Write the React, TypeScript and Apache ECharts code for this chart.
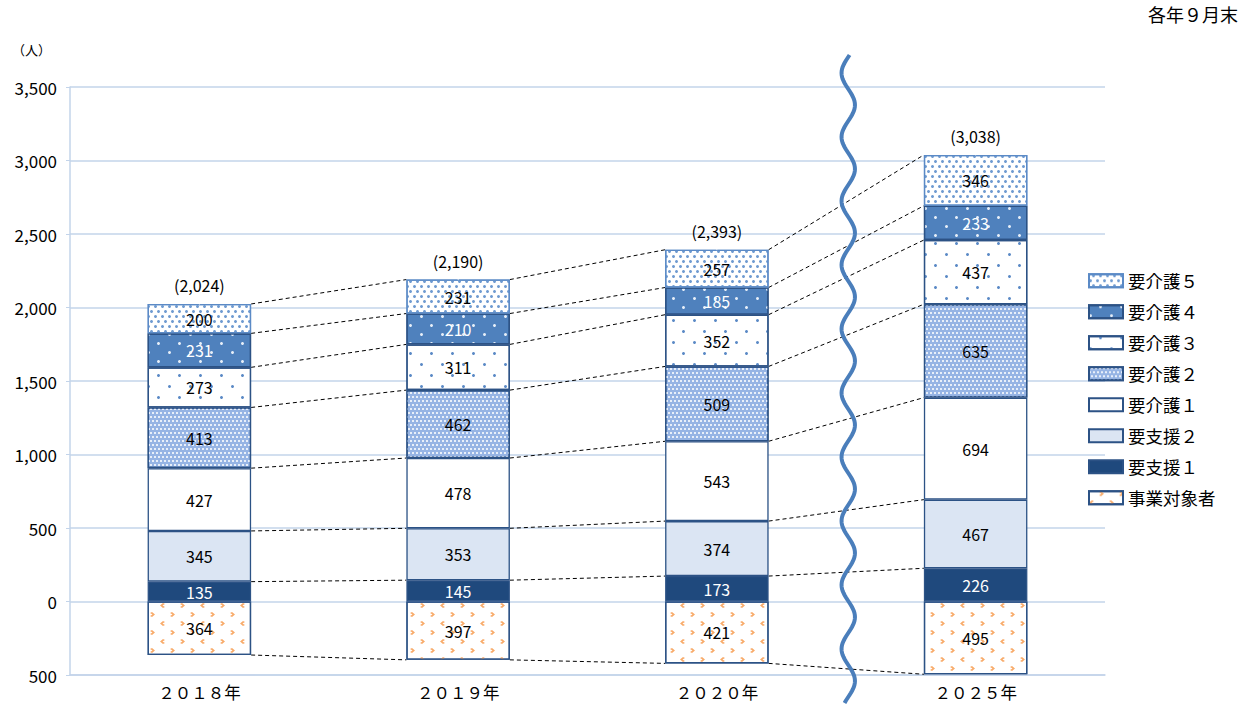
import React, { useEffect, useRef } from 'react';
import * as echarts from 'echarts';

const years = ['２０１８年', '２０１９年', '２０２０年', '２０２５年'];
const jigyo = [364, 397, 421, 495];
const shien1 = [135, 145, 173, 226];
const shien2 = [345, 353, 374, 467];
const kaigo1 = [427, 478, 543, 694];
const kaigo2 = [413, 462, 509, 635];
const kaigo3 = [273, 311, 352, 437];
const kaigo4 = [231, 210, 185, 233];
const kaigo5 = [200, 231, 257, 346];
const totals = [2024, 2190, 2393, 3038];
const seriesNames = ['要支援１', '要支援２', '要介護１', '要介護２', '要介護３', '要介護４', '要介護５'];
const legendOrder = ['要介護５', '要介護４', '要介護３', '要介護２', '要介護１', '要支援２', '要支援１', '事業対象者'];

const FONT = "'Noto Sans CJK JP', 'Noto Sans', sans-serif";
const GRID = { left: 70, right: 142, top: 87, bottom: 29 };
const W = 1247;
const H = 704;

const DARK = '#2c5285';

const positiveSets = [shien1, shien2, kaigo1, kaigo2, kaigo3, kaigo4, kaigo5];

const styles: any[] = [
  { color: '#1f497d', borderColor: DARK, label: '#ffffff' },
  { color: '#dbe5f3', borderColor: DARK, label: '#000000' },
  { color: '#ffffff', borderColor: DARK, label: '#000000' },
  {
    color: '#96b4e4', borderColor: DARK, label: '#000000',
    decal: { symbol: 'rect', symbolSize: 1, color: '#e8eff9', dashArrayX: [[1.5, 1.5], [0, 1.5, 1.5, 0]], dashArrayY: [1.5, 1.5] },
  },
  {
    color: '#ffffff', borderColor: DARK, label: '#000000',
    decal: { symbol: 'circle', symbolSize: 1, color: '#5b8ac6', dashArrayX: [[2.5, 17.5], [0, 10, 2.5, 7.5]], dashArrayY: [2.5, 7.5] },
  },
  {
    color: '#4f81bd', borderColor: DARK, label: '#ffffff',
    decal: { symbol: 'circle', symbolSize: 1, color: '#e6eef8', dashArrayX: [[2.5, 17.5], [0, 10, 2.5, 7.5]], dashArrayY: [2.5, 5.5] },
  },
  {
    color: '#ffffff', borderColor: '#5b8ac6', label: '#000000',
    decal: { symbol: 'circle', symbolSize: 1, color: '#6f9bd1', dashArrayX: [[2.2, 3.8], [0, 3, 2.2, 0.8]], dashArrayY: [2.2, 1.8] },
  },
];

const fmt = (v: number) => Math.abs(v).toLocaleString('en-US');

export default function App() {
  const ref = useRef<HTMLDivElement>(null);
  useEffect(() => {
    if (!ref.current) return;
    const chart = echarts.init(ref.current, undefined, { renderer: 'svg' });

    const barSeries: any[] = positiveSets.map((arr, k) => ({
      name: seriesNames[k],
      type: 'bar',
      stack: 'total',
      barWidth: '40%',
      data: arr,
      itemStyle: {
        color: styles[k].color,
        borderColor: styles[k].borderColor,
        borderWidth: 1.3,
        decal: styles[k].decal,
      },
      label: {
        show: true,
        position: 'inside',
        color: styles[k].label,
        fontSize: 16,
        fontFamily: FONT,
        formatter: (p: any) => fmt(p.value),
      },
    }));

    barSeries.push({
      name: '事業対象者',
      type: 'bar',
      stack: 'total',
      barWidth: '40%',
      data: jigyo.map((v) => -v),
      itemStyle: {
        color: '#ffffff',
        borderColor: DARK,
        borderWidth: 1.3,
        decal: {
          symbol: ['path://M6,0 L10,2 L5,5 L10,8 L6,10 L0,5 Z', 'path://M4,0 L10,5 L4,10 L0,8 L5,5 L0,2 Z'],
          symbolSize: 1,
          color: '#f8ab6a',
          dashArrayX: [[5, 15], [0, 10, 5, 5]],
          dashArrayY: [5, 3.5],
        },
      },
      label: {
        show: true,
        position: 'inside',
        color: '#000000',
        fontSize: 16,
        fontFamily: FONT,
        formatter: (p: any) => fmt(p.value),
      },
    });

    const levels: number[][] = years.map((_, i) => {
      const out: number[] = [-jigyo[i]];
      let acc = 0;
      positiveSets.forEach((arr) => {
        acc += arr[i];
        out.push(acc);
      });
      return out;
    });
    const connectorData: number[][] = [];
    for (let i = 0; i < years.length - 1; i++) {
      levels[i].forEach((v, k) => connectorData.push([i, v, levels[i + 1][k]]));
    }

    const plotW = W - GRID.left - GRID.right;
    const cx = GRID.left + (plotW / years.length) * 3 + 2;
    const wave: number[][] = [];
    for (let y = 55; y <= 704; y += 2) {
      wave.push([cx - 6.7 * Math.cos(((y - 73) / 64) * 2 * Math.PI), y]);
    }

    chart.setOption({
      animation: false,
      textStyle: { fontFamily: FONT },
      grid: GRID,
      legend: {
        data: legendOrder,
        orient: 'vertical',
        left: 1083,
        top: 267,
        itemWidth: 34,
        itemHeight: 13,
        itemGap: 13.5,
        icon: 'rect',
        textStyle: { fontSize: 17.5, color: '#000', fontFamily: FONT, lineHeight: 17 },
      },
      xAxis: {
        type: 'category',
        data: years,
        axisLine: { onZero: false, lineStyle: { color: '#c3d4ea', width: 1.5 } },
        axisTick: { show: false },
        axisLabel: { fontSize: 16.5, color: '#000', fontFamily: FONT, margin: 9 },
      },
      yAxis: {
        type: 'value',
        min: -500,
        max: 3500,
        interval: 500,
        axisLine: { show: true, lineStyle: { color: '#c3d4ea', width: 1.5 } },
        axisTick: { show: true, length: 4, lineStyle: { color: '#c3d4ea' } },
        splitLine: { lineStyle: { color: '#c3d4ea', width: 1.5 } },
        axisLabel: { fontSize: 17, color: '#000', fontFamily: FONT, margin: 13, formatter: (v: number) => fmt(v) },
      },
      series: [
        ...barSeries,
        {
          type: 'custom',
          name: 'connectors',
          data: connectorData,
          encode: { x: 0, y: 1 },
          z: 1,
          silent: true,
          renderItem: (params: any, api: any) => {
            const i = api.value(0);
            const p1 = api.coord([i, api.value(1)]);
            const p2 = api.coord([i + 1, api.value(2)]);
            const half = api.size([1, 0])[0] * 0.2;
            return {
              type: 'line',
              shape: { x1: p1[0] + half, y1: p1[1], x2: p2[0] - half, y2: p2[1] },
              style: { stroke: '#000', lineWidth: 1, lineDash: [4, 3] },
            };
          },
        },
        {
          type: 'scatter',
          name: 'totals',
          data: totals,
          symbolSize: 1,
          itemStyle: { color: '#ffffff', opacity: 1 },
          silent: true,
          z: 5,
          label: {
            show: true,
            position: 'top',
            distance: 10,
            color: '#000000',
            opacity: 1,
            fontSize: 16,
            fontFamily: FONT,
            formatter: (p: any) => '(' + Number(p.value).toLocaleString('en-US') + ')',
          },
        },
      ],
      graphic: [
        {
          type: 'text',
          left: 12,
          top: 43,
          style: { text: '（人）', fontSize: 13, fill: '#000', fontFamily: FONT },
        },
        {
          type: 'text',
          right: 9,
          top: 5,
          style: { text: '各年９月末', fontSize: 18, fill: '#000', fontFamily: FONT },
        },
        {
          type: 'polyline',
          z: 100,
          shape: { points: wave },
          style: { stroke: '#4a7ebb', lineWidth: 4, fill: null },
        },
      ],
    });
    return () => chart.dispose();
  }, []);
  return <div ref={ref} style={{ position: 'absolute', left: 0, top: 0, width: W, height: H }} />;
}
